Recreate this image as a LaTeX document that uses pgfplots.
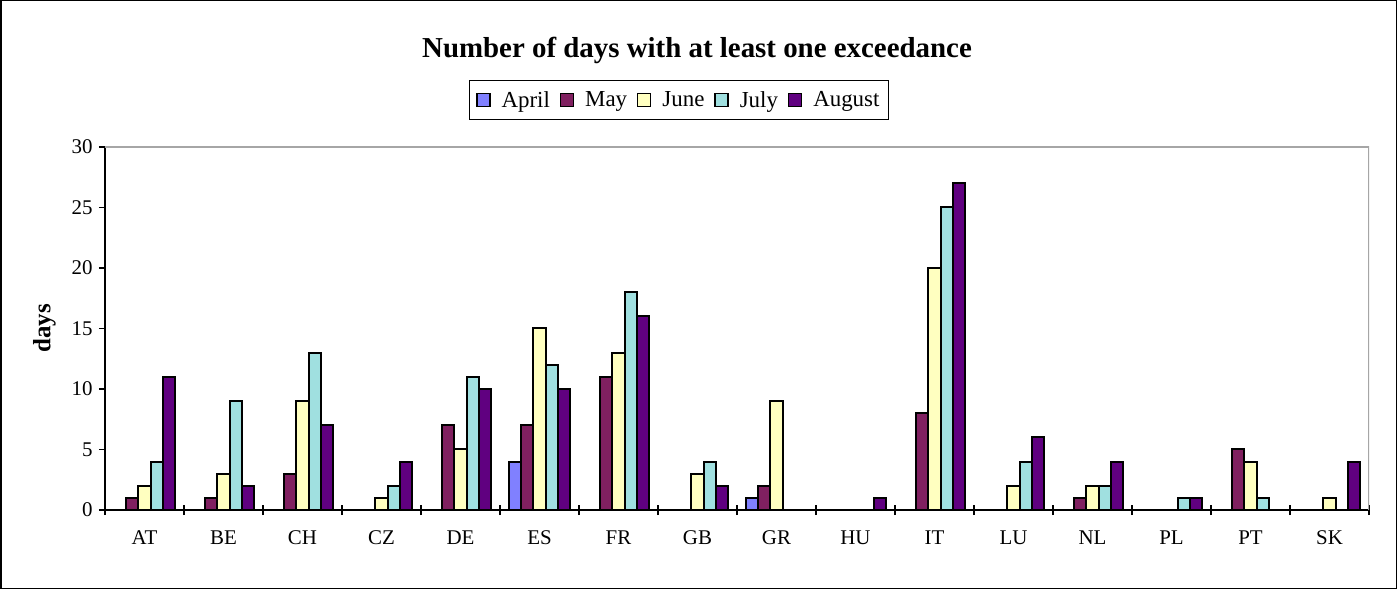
\documentclass[border=0pt]{standalone}
\usepackage{pgfplots}
\pgfplotsset{compat=1.18}
\usepackage{fontspec}
\setmainfont{Liberation Serif}

\definecolor{cApr}{HTML}{8080FF}
\definecolor{cMay}{HTML}{802060}
\definecolor{cJun}{HTML}{FFFFC0}
\definecolor{cJul}{HTML}{A0E0E0}
\definecolor{cAug}{HTML}{600080}

\begin{document}
\begin{tikzpicture}
\useasboundingbox (0,0) rectangle (1397bp,589bp);
\draw[line width=1.5bp] (0.75bp,0.75bp) rectangle (1396.25bp,588.25bp);
\node[font=\bfseries\fontsize{29}{29}\selectfont] at (697bp,539bp) {Number of days with at least one exceedance};
\begin{axis}[
  at={(105bp,79bp)}, anchor=south west,
  scale only axis, width=1264bp, height=363bp,
  ybar=0pt, bar width=0.152,
  xmin=-0.5, xmax=15.5, ymin=0, ymax=30,
  ytick={0,5,...,30},
  xtick={0,...,15},
  xticklabels={AT,BE,CH,CZ,DE,ES,FR,GB,GR,HU,IT,LU,NL,PL,PT,SK},
  minor xtick={-0.5,0.5,...,15.5},
  axis x line*=bottom, axis y line*=left,
  axis line style={line width=1.2bp, black},
  tick align=outside,
  major tick length=6bp, minor tick length=10bp,
  every major x tick/.append style={draw=none},
  every minor x tick/.append style={yshift=5bp, line width=1.2bp, black},
  every major y tick/.append style={line width=1.2bp, black},
  tick label style={font=\fontsize{21}{21}\selectfont},
  /pgf/number format/assume math mode=true,
  xticklabel style={yshift=-11bp},
  yticklabel style={xshift=-3bp},
  ylabel={days},
  ylabel style={font=\bfseries\fontsize{25}{25}\selectfont, at={(axis description cs:-0.048,0.5)}, anchor=center},
  every axis plot/.append style={draw=black, line width=2bp},
  legend columns=5,
  legend style={at={(axis description cs:0.454,1.074)}, anchor=south,
    draw=black, line width=0.9bp, font=\fontsize{23}{23}\selectfont,
    inner xsep=7bp, inner ysep=9bp,
    /tikz/every odd column/.append style={column sep=9bp},
    /tikz/every even column/.append style={column sep=8bp}},
  legend image code/.code={\draw[#1, line width=1.3bp] (0bp,-6.5bp) rectangle (13bp,6.5bp);},
]
\addplot[fill=cApr] coordinates {(5,4) (8,1)};
\addplot[fill=cMay] coordinates {(0,1) (1,1) (2,3) (4,7) (5,7) (6,11) (8,2) (10,8) (12,1) (14,5)};
\addplot[fill=cJun] coordinates {(0,2) (1,3) (2,9) (3,1) (4,5) (5,15) (6,13) (7,3) (8,9) (10,20) (11,2) (12,2) (14,4) (15,1)};
\addplot[fill=cJul] coordinates {(0,4) (1,9) (2,13) (3,2) (4,11) (5,12) (6,18) (7,4) (10,25) (11,4) (12,2) (13,1) (14,1)};
\addplot[fill=cAug] coordinates {(0,11) (1,2) (2,7) (3,4) (4,10) (5,10) (6,16) (7,2) (9,1) (10,27) (11,6) (12,4) (13,1) (15,4)};
\legend{April, May, June, July, August}
\draw[gray!70, line width=1.2bp] (rel axis cs:0,1) -- (rel axis cs:1,1) -- (rel axis cs:1,0);
\end{axis}
\end{tikzpicture}
\end{document}
